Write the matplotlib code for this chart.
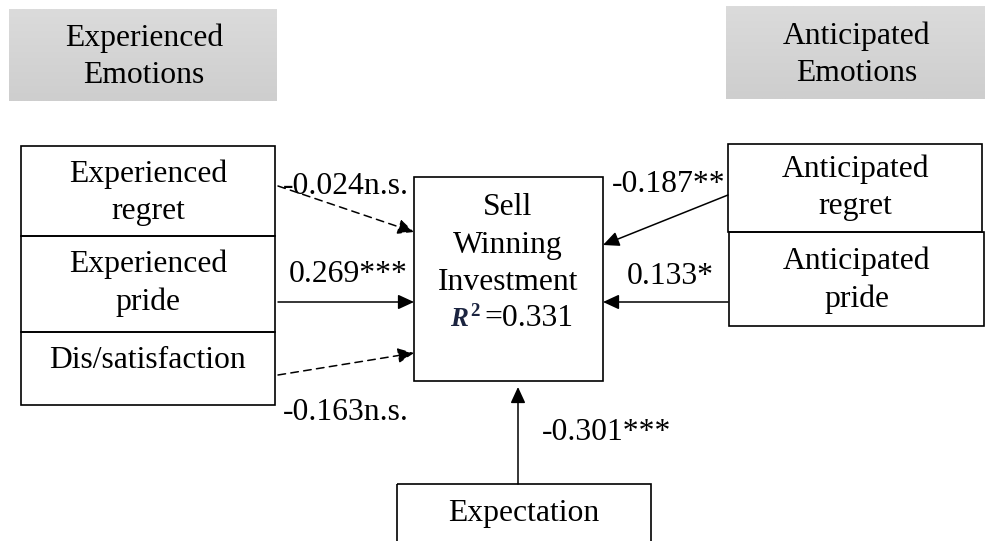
import numpy as np
import matplotlib.pyplot as plt
from matplotlib.patches import Rectangle
from matplotlib.colors import LinearSegmentedColormap

plt.rcParams["font.family"] = ["Liberation Serif", "DejaVu Serif"]
FS = 22.8
LS = 1.38

# dados do modelo
fontes   = ["Experienced\nregret", "Experienced\npride", "Dis/satisfaction",
            "Anticipated\nregret", "Anticipated\npride", "Expectation"]
coefs    = [-0.024, 0.269, -0.163, -0.187, 0.133, -0.301]
signif   = ["n.s.", "***", "n.s.", "**", "*", "***"]
alvo     = "Sell\nWinning\nInvestment"
r2       = 0.331
grupos   = ["Experienced\nEmotions", "Anticipated\nEmotions"]

fig = plt.figure(figsize=(9.85, 5.41), dpi=100)
ax = fig.add_axes([0, 0, 1, 1])
ax.set_xlim(0, 985)
ax.set_ylim(541, 0)
ax.axis("off")

# cabecalhos com degrade
grad = np.linspace(0, 1, 64).reshape(-1, 1)
cmap_cab = LinearSegmentedColormap.from_list("g", ["#dbdbdb", "#cecece"])
cab_box = [(9, 277, 9, 101), (726, 985, 6, 99)]
for (x0, x1, y0, y1), txt in zip(cab_box, grupos):
    ax.imshow(grad, cmap=cmap_cab, extent=(x0, x1, y1, y0), aspect="auto", zorder=0)
    ax.text((x0 + x1) / 2 + 1, (y0 + y1) / 2 + 2, txt, ha="center", va="center",
            fontsize=FS, linespacing=LS)

# caixas das variaveis (x0, x1, y0, y1, y_texto)
caixas = [(21, 275, 146, 236, 193), (21, 275, 236, 332, 283), (21, 275, 332, 405, 360),
          (728, 982, 144, 232, 188), (729, 984, 232, 326, 280), (397, 651, 484, 560, 513)]
for (x0, x1, y0, y1, yt), nome in zip(caixas, fontes):
    ax.add_patch(Rectangle((x0, y0), x1 - x0, y1 - y0, fill=False, lw=1.2,
                           edgecolor="black", zorder=2))
    ax.text((x0 + x1) / 2, yt, nome, ha="center", va="center", fontsize=FS,
            linespacing=LS)

# caixa central
cx0, cx1, cy0, cy1 = 414, 603, 177, 381
ax.add_patch(Rectangle((cx0, cy0), cx1 - cx0, cy1 - cy0, fill=False, lw=1.2,
                       edgecolor="black", zorder=2))
ax.text(508, 245, alvo, ha="center", va="center", fontsize=FS, linespacing=LS)
ax.text(459, 320, "R", ha="center", va="center", fontsize=FS * 0.85,
        fontweight="bold", fontstyle="italic", color="#1b2440")
ax.text(475, 311, "2", ha="center", va="center", fontsize=FS * 0.6,
        fontweight="bold", color="#1b2440")
ax.text(529, 318, f"={r2:.3f}", ha="center", va="center", fontsize=FS)

# caminhos: inicio, fim, posicao do rotulo
caminhos = [((278, 186), (414, 232), (346, 187)),
            ((278, 302), (414, 302), (348, 275)),
            ((278, 375), (414, 353), (346, 412)),
            ((728, 195), (603, 245), (669, 184)),
            ((728, 302), (603, 302), (670, 277)),
            ((518, 484), (518, 387), (607, 433))]
for (ini, fim, pos), c, s in zip(caminhos, coefs, signif):
    estilo = (0, (5, 3.5)) if s == "n.s." else "-"
    ax.annotate("", xy=fim, xytext=ini,
                arrowprops=dict(arrowstyle="-|>,head_length=0.65,head_width=0.3",
                                mutation_scale=15, lw=1.1, color="black",
                                linestyle=estilo, shrinkA=0, shrinkB=0))
    ax.text(pos[0], pos[1], f"{c:.3f}{s}", ha="center", va="center", fontsize=FS)

plt.savefig("out.png", dpi=100)
